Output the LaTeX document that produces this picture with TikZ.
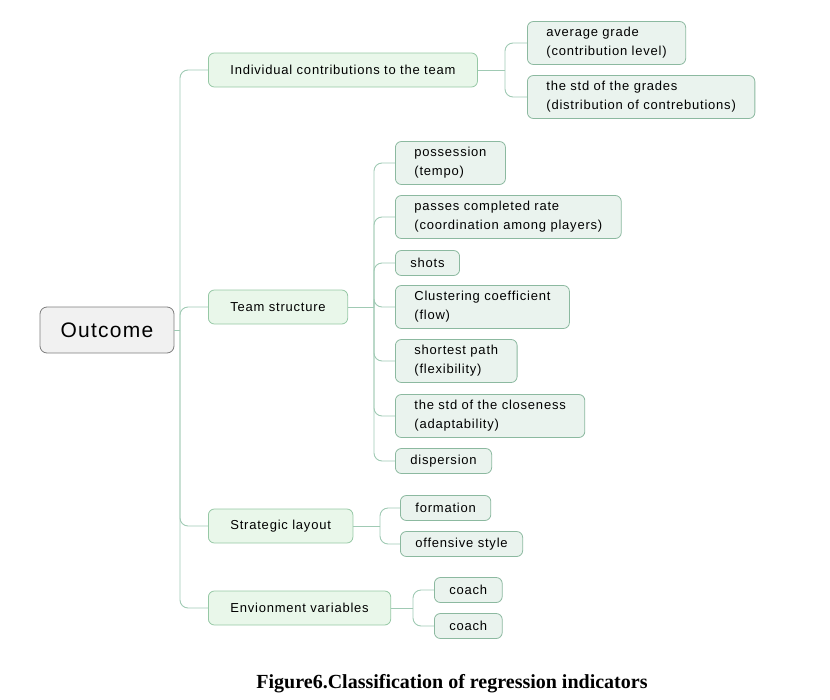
\documentclass[tikz,border=0pt]{standalone}
\usepackage{fontspec}
\setmainfont[LetterSpace=6]{Liberation Sans}
\newfontfamily\captionfont{Liberation Serif}
\usetikzlibrary{positioning}
\definecolor{rootcolor}{RGB}{241, 241, 241}
\definecolor{rootborder}{RGB}{125, 125, 125}
\definecolor{topiccolor}{RGB}{233, 247, 234}
\definecolor{topicborder}{RGB}{150, 200, 165}
\definecolor{itemcolor}{RGB}{234, 243, 238}
\definecolor{itemborder}{RGB}{140, 185, 160}
\definecolor{linkcolor}{RGB}{160, 202, 180}
\tikzstyle{root} = [rectangle, rounded corners=7pt, minimum width=134pt, minimum height=46pt,
                    draw=rootborder, fill=rootcolor, line width=0.8pt, font=\fontsize{21}{24}\selectfont]
\tikzstyle{topic} = [rectangle, rounded corners=6pt, minimum height=34pt, inner xsep=22pt, anchor=west,
                     draw=topicborder, fill=topiccolor, line width=0.8pt, font=\fontsize{13}{15}\selectfont]
\tikzstyle{item} = [rectangle, rounded corners=6pt, minimum height=25pt, inner xsep=15pt, anchor=west,
                    draw=itemborder, fill=itemcolor, line width=0.8pt, font=\fontsize{13}{15}\selectfont]
\tikzstyle{itemtwo} = [item, align=left, minimum height=43pt, inner xsep=19pt,
                       font=\fontsize{13}{19}\selectfont]
\tikzstyle{link} = [draw=linkcolor, line width=0.9pt, rounded corners=8pt]

\begin{document}
\begin{tikzpicture}[x=1pt, y=-1pt]
    \useasboundingbox (0,0) rectangle (830,699);

    \node[root] (outcome) at (107,330) {Outcome};

    \node[topic] (individual) at (208,70) {Individual contributions to the team};
    \node[topic] (team) at (208,307) {Team structure};
    \node[topic] (strategic) at (208,526) {Strategic layout};
    \node[topic] (environment) at (208,608) {Envionment variables};

    \node[itemtwo] (average) at (527,43) {average grade\\(contribution level)};
    \node[itemtwo] (stdgrades) at (527,97) {the std of the grades\\(distribution of contrebutions)};

    \node[itemtwo] (possession) at (395,163) {possession\\(tempo)};
    \node[itemtwo] (passes) at (395,217) {passes completed rate\\(coordination among players)};
    \node[item] (shots) at (395,263) {shots};
    \node[itemtwo] (clustering) at (395,307) {Clustering coefficient\\(flow)};
    \node[itemtwo] (shortest) at (395,361) {shortest path\\(flexibility)};
    \node[itemtwo] (closeness) at (395,416) {the std of the closeness\\(adaptability)};
    \node[item] (dispersion) at (395,461) {dispersion};

    \node[item] (formation) at (400,508) {formation};
    \node[item] (offensive) at (400,544) {offensive style};

    \node[item] (coachone) at (434,590) {coach};
    \node[item] (coachtwo) at (434,626) {coach};

    % branch points
    \coordinate (jo) at (180,330);
    \coordinate (ji) at (505,70);
    \coordinate (jt) at (374,307);
    \coordinate (js) at (380,526);
    \coordinate (je) at (413,608);

    \draw[link] (outcome.east) -- (jo);
    \foreach \n in {individual, team, strategic, environment}
        \draw[link] (jo) |- (\n.west);

    \draw[link] (individual.east) -- (ji);
    \foreach \n in {average, stdgrades}
        \draw[link] (ji) |- (\n.west);

    \draw[link] (team.east) -- (jt);
    \foreach \n in {possession, passes, shots, clustering, shortest, closeness, dispersion}
        \draw[link] (jt) |- (\n.west);

    \draw[link] (strategic.east) -- (js);
    \foreach \n in {formation, offensive}
        \draw[link] (js) |- (\n.west);

    \draw[link] (environment.east) -- (je);
    \foreach \n in {coachone, coachtwo}
        \draw[link] (je) |- (\n.west);

    \node[font=\captionfont\bfseries\fontsize{20}{24}\selectfont] (caption) at (452,684)
        {Figure6.Classification of regression indicators};
\end{tikzpicture}
\end{document}
